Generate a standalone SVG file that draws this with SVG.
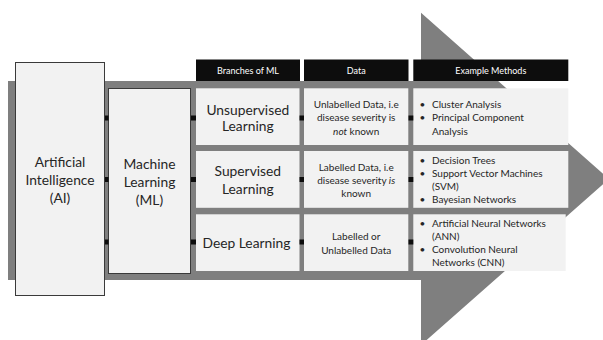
<svg xmlns="http://www.w3.org/2000/svg" width="603" height="340" viewBox="0 0 603 340">
<style>
.t{font-family:Lato,"Open Sans",sans-serif;fill:#262626;text-anchor:middle}
.big{font-size:13.8px}
.sm{font-size:10px}
.hd{font-family:Lato,"Open Sans",sans-serif;font-size:9px;fill:#ffffff;text-anchor:middle}
.m{font-family:Lato,"Open Sans",sans-serif;font-size:10px;fill:#262626}
.box{fill:#f2f2f2}
.ob{fill:#f2f2f2;stroke:#3a3a3a;stroke-width:1}
.h{fill:#0d0d0d}
.c{fill:#0d0d0d}
</style>
<polygon points="8,81 421,81 421,12.7 609,179 421,345 421,280 8,280" fill="#7f7f7f"/>
<g id="ai"><rect class="ob" x="15.5" y="62.5" width="89" height="233"/>
<text class="t big" x="60" y="167">Artificial</text><text class="t big" x="60" y="185">Intelligence</text><text class="t big" x="60" y="203">(AI)</text></g>
<g id="ml"><rect class="ob" x="108.5" y="88.5" width="82" height="185"/>
<text class="t big" x="149.5" y="169">Machine</text><text class="t big" x="149.5" y="187">Learning</text><text class="t big" x="149.5" y="205">(ML)</text></g>
<g id="h1"><rect class="h" x="196" y="59.5" width="104" height="21.5"/><text class="hd" x="248" y="74">Branches of ML</text></g>
<g id="h2"><rect class="h" x="304" y="59.5" width="104.5" height="21.5"/><text class="hd" x="356.2" y="74">Data</text></g>
<g id="h3"><rect class="h" x="413.3" y="59.5" width="155" height="21.5"/><text class="hd" x="490.8" y="74">Example Methods</text></g>
<g id="b1"><rect class="box" x="196" y="88.3" width="103.5" height="56.7"/><text class="t big" x="247.8" y="114.5">Unsupervised</text><text class="t big" x="247.8" y="131">Learning</text></g>
<g id="d1"><rect class="box" x="304" y="88.3" width="104.3" height="56.7"/><text class="t sm" x="356.2" y="108">Unlabelled Data, i.e</text><text class="t sm" x="356.2" y="121">disease severity is</text><text class="t sm" x="356.2" y="134.5"><tspan font-style="italic">not</tspan> known</text></g>
<g id="m1"><rect class="box" x="413.3" y="88.3" width="155" height="56.7"/><text class="m" x="419.5" y="108">•</text><text class="m" x="432" y="108">Cluster Analysis</text><text class="m" x="419.5" y="121">•</text><text class="m" x="432" y="121">Principal Component</text><text class="m" x="432" y="134.5">Analysis</text></g>
<g id="b2"><rect class="box" x="196" y="151" width="103.5" height="56.8"/><text class="t big" x="247.8" y="176">Supervised</text><text class="t big" x="247.8" y="193.5">Learning</text></g>
<g id="d2"><rect class="box" x="304" y="151" width="104.3" height="56.8"/><text class="t sm" x="356.2" y="170.5">Labelled Data, i.e</text><text class="t sm" x="356.2" y="183.5">disease severity <tspan font-style="italic">is</tspan></text><text class="t sm" x="356.2" y="196.5">known</text></g>
<g id="m2"><rect class="box" x="413.3" y="151" width="155" height="56.8"/><text class="m" x="419.5" y="164">•</text><text class="m" x="432" y="164">Decision Trees</text><text class="m" x="419.5" y="177">•</text><text class="m" x="432" y="177">Support Vector Machines</text><text class="m" x="432" y="190">(SVM)</text><text class="m" x="419.5" y="203">•</text><text class="m" x="432" y="203">Bayesian Networks</text></g>
<g id="b3"><rect class="box" x="196" y="214.3" width="103.5" height="56.7"/><text class="t big" x="246.5" y="248">Deep Learning</text></g>
<g id="d3"><rect class="box" x="304" y="214.3" width="104.3" height="56.7"/><text class="t sm" x="356.2" y="240">Labelled or</text><text class="t sm" x="356.2" y="253.5">Unlabelled Data</text></g>
<g id="m3"><rect class="box" x="413.3" y="214.3" width="152.4" height="56.7"/><text class="m" x="419.5" y="226.5">•</text><text class="m" x="432" y="226.5">Artificial Neural Networks</text><text class="m" x="432" y="239.5">(ANN)</text><text class="m" x="419.5" y="252.5">•</text><text class="m" x="432" y="252.5">Convolution Neural</text><text class="m" x="432" y="265.5">Networks (CNN)</text></g>
<g id="connectors">
<rect class="c" x="105" y="115.5" width="3.5" height="5"/><rect class="c" x="105" y="177" width="3.5" height="5"/><rect class="c" x="105" y="239.5" width="3.5" height="5"/>
<rect class="c" x="191" y="115.5" width="5" height="5"/><rect class="c" x="191" y="177" width="5" height="5"/><rect class="c" x="191" y="239.5" width="5" height="5"/>
<rect class="c" x="299.5" y="115.5" width="4.5" height="5"/><rect class="c" x="299.5" y="177" width="4.5" height="5"/><rect class="c" x="299.5" y="239.5" width="4.5" height="5"/>
<rect class="c" x="408.5" y="115.5" width="4.8" height="5"/><rect class="c" x="408.5" y="177" width="4.8" height="5"/><rect class="c" x="408.5" y="239.5" width="4.8" height="5"/>
</g>
</svg>
